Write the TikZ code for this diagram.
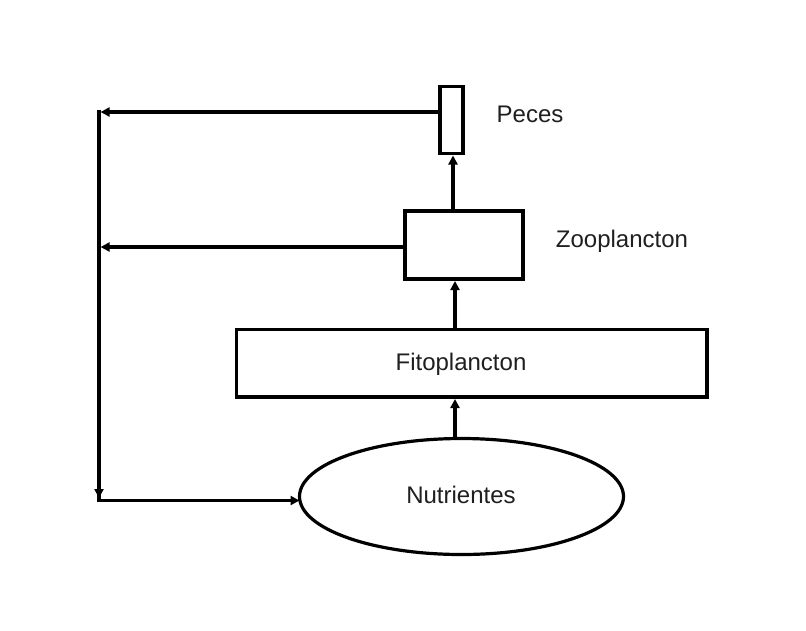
\documentclass[tikz,border=0pt]{standalone}
\usepackage{fontspec}
\setmainfont{Liberation Sans}
\usetikzlibrary{arrows.meta,shapes.geometric}
\tikzset{
  box/.style={draw, line width=3.2pt, inner sep=0pt, outer sep=0pt},
  oval/.style={draw, ellipse, line width=3.2pt, inner sep=0pt, outer sep=0pt, minimum width=324pt, minimum height=116pt},
  lbl/.style={anchor=base, inner sep=0pt, font=\fontsize{24}{28}\selectfont, text=black!88},
  arr/.style={line width=3.2pt, -{Triangle[length=9pt,width=9pt]}, shorten >=2pt},
  ln/.style={line width=3.2pt}
}
\begin{document}
\begin{tikzpicture}[x=1pt,y=-1pt]
\useasboundingbox[fill=white] (0,0) rectangle (806,630);
% nodes
\node[box, minimum width=23pt, minimum height=67pt] (peces) at (451.5,120) {};
\node[box, minimum width=118pt, minimum height=68pt] (zoo) at (464,245) {};
\node[box, minimum width=470.5pt, minimum height=67.5pt] (fito) at (471.75,363.25) {};
\node[oval] (nut) at (461.5,496.5) {};
% labels
\node[lbl] (tpeces) at (530,122) {Peces};
\node[lbl] (tzoo) at (622,247) {Zooplancton};
\node[lbl] (tfito) at (461,370) {Fitoplancton};
\node[lbl] (tnut) at (461,503) {Nutrientes};
% corner coordinates
\coordinate (c1) at (99,112);
\coordinate (c2) at (99,247);
\coordinate (c3) at (99,499);
% upward flows
\draw[arr] ([xshift=-6.5pt]nut.north) -- ([xshift=-6.5pt]nut.north |- fito.south);
\draw[arr] ([xshift=-9pt]zoo.south |- fito.north) -- ([xshift=-9pt]zoo.south);
\draw[arr] ([xshift=1.5pt]peces.south |- zoo.north) -- ([xshift=1.5pt]peces.south);
% return flows
\draw[arr, shorten >=0pt] ([yshift=8pt]peces.west) -- ([xshift=1.6pt]c1);
\draw[arr, shorten >=0pt] (zoo.west |- c2) -- ([xshift=1.6pt]c2);
\draw[ln] ([yshift=1.6pt]c1) -- ([yshift=-3pt]c3);
\draw[arr, shorten >=0pt] ([yshift=-1.5pt]c3) -- ([yshift=-1.5pt]c3 -| nut.west);
\draw[-{Triangle[length=9pt,width=9pt]}, line width=3.2pt] ([yshift=12pt]c3) -- ([yshift=1pt]c3);
\end{tikzpicture}
\end{document}
